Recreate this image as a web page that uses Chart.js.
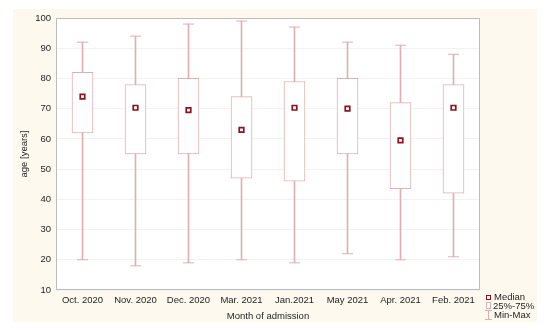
<!DOCTYPE html>
<html>
<head>
<meta charset="utf-8">
<script src="https://cdn.jsdelivr.net/npm/chart.js@4.4.1/dist/chart.umd.min.js"></script>
<style>
  html, body { margin: 0; padding: 0; background: #ffffff; }
  #wrap { position: relative; width: 550px; height: 332px; overflow: hidden; }
  #panel { position: absolute; left: 13px; top: 9px; width: 524px; height: 313px; background: #fdf9ee; }
  #chartBox { position: absolute; left: 0; top: 0; width: 550px; height: 332px; }
  .leg { position: absolute; font-family: "Liberation Sans", Arial, sans-serif; font-size: 9.5px; color: #1e1e1e; line-height: 10px; white-space: nowrap; }
  .ico { position: absolute; box-sizing: border-box; }
</style>
</head>
<body>
<div id="wrap">
  <div id="panel"></div>
  <div id="chartBox"><canvas id="boxChart"></canvas></div>

  <!-- legend -->
  <div class="ico" style="left:486px;top:295px;width:5px;height:5px;border:1.5px solid #8b1020;background:#fff;"></div>
  <div class="leg" style="left:494px;top:292px;">Median</div>
  <div class="ico" style="left:486px;top:302px;width:5px;height:7px;border:1px solid #deb0b5;background:#fff;"></div>
  <div class="leg" style="left:493px;top:300.5px;">25%-75%</div>
  <div class="ico" style="left:488px;top:310px;width:1px;height:10px;background:#deb0b5;"></div>
  <div class="ico" style="left:485px;top:310px;width:7px;height:1px;background:#deb0b5;"></div>
  <div class="ico" style="left:485px;top:319px;width:7px;height:1px;background:#deb0b5;"></div>
  <div class="leg" style="left:494px;top:309.5px;">Min-Max</div>
</div>

<script>
// chart values
const categories = ['Oct. 2020', 'Nov. 2020', 'Dec. 2020', 'Mar. 2021', 'Jan.2021', 'May 2021', 'Apr. 2021', 'Feb. 2021'];
const minValues = [20, 18, 19, 20, 19, 22, 20, 21];
const q1Values = [62, 55, 55, 47, 46, 55, 43.5, 42];
const medianValues = [74, 70.3, 69.5, 63, 70.3, 70, 59.5, 70.3];
const q3Values = [82, 78, 80, 74, 79, 80, 72, 78];
const maxValues = [92, 94, 98, 99, 97, 92, 91, 88];
const yMin = 10;
const yMax = 100;
const yStep = 10;

const lineColor = '#deb0b5';
const medianColor = '#8b1020';
const font = { family: '"Liberation Sans", Arial, sans-serif', size: 9.5 };

// white plot area + thin frame round it
const plotFrame = {
    id: 'plotFrame',
    beforeDraw(chart) {
        const { ctx, chartArea } = chart;
        ctx.save();
        ctx.fillStyle = '#ffffff';
        ctx.fillRect(chartArea.left, chartArea.top, chartArea.right - chartArea.left, chartArea.bottom - chartArea.top);
        ctx.restore();
    },
    afterDraw(chart) {
        const { ctx, chartArea } = chart;
        ctx.save();
        ctx.strokeStyle = '#bcbcbc';
        ctx.lineWidth = 1;
        ctx.strokeRect(chartArea.left + 0.5, chartArea.top + 0.5, chartArea.right - chartArea.left - 1, chartArea.bottom - chartArea.top - 1);
        ctx.restore();
    }
};

const ctx = document.getElementById('boxChart').getContext('2d');
new Chart(ctx, {
    type: 'bar',
    data: {
        labels: categories,
        datasets: [
            {
                label: 'Median',
                type: 'line',
                data: medianValues,
                showLine: false,
                pointStyle: 'rect',
                pointRadius: 3.2,
                pointBorderWidth: 1.7,
                pointBackgroundColor: '#ffffff',
                pointBorderColor: medianColor,
                order: 0
            },
            {
                label: 'Max',
                type: 'line',
                data: maxValues,
                showLine: false,
                pointStyle: 'line',
                pointRadius: 5.5,
                pointBorderWidth: 1,
                pointBorderColor: lineColor,
                order: 1
            },
            {
                label: 'Min',
                type: 'line',
                data: minValues,
                showLine: false,
                pointStyle: 'line',
                pointRadius: 5.5,
                pointBorderWidth: 1,
                pointBorderColor: lineColor,
                order: 1
            },
            {
                label: '25%-75%',
                data: categories.map((c, i) => [q1Values[i], q3Values[i]]),
                backgroundColor: '#ffffff',
                borderColor: lineColor,
                borderWidth: 1,
                borderSkipped: false,
                barThickness: 21,
                grouped: false,
                order: 2
            },
            {
                label: 'Min-Max',
                data: categories.map((c, i) => [minValues[i], maxValues[i]]),
                backgroundColor: lineColor,
                borderWidth: 0,
                barThickness: 1,
                grouped: false,
                order: 3
            }
        ]
    },
    options: {
        responsive: true,
        maintainAspectRatio: false,
        animation: false,
        layout: { padding: { left: 12, top: 18, right: 70, bottom: 7 } },
        plugins: {
            legend: { display: false },
            tooltip: { enabled: false }
        },
        scales: {
            x: {
                grid: { display: false, drawTicks: false },
                border: { display: false },
                ticks: { color: '#1e1e1e', font: font, padding: 5, maxRotation: 0 },
                title: { display: true, text: 'Month of admission', color: '#1e1e1e', font: font, padding: { top: 2, bottom: 3 } },
                afterFit(scale) { scale.height = 35; }
            },
            y: {
                min: yMin,
                max: yMax,
                grid: { color: '#f2f2f2', drawTicks: false },
                border: { display: false },
                ticks: { stepSize: yStep, color: '#1e1e1e', font: font, padding: 5 },
                title: { display: true, text: 'age [years]', color: '#1e1e1e', font: font, padding: { top: 7, bottom: 2 } },
                afterFit(scale) { scale.width = 44; }
            }
        }
    },
    plugins: [plotFrame]
});
</script>
</body>
</html>
